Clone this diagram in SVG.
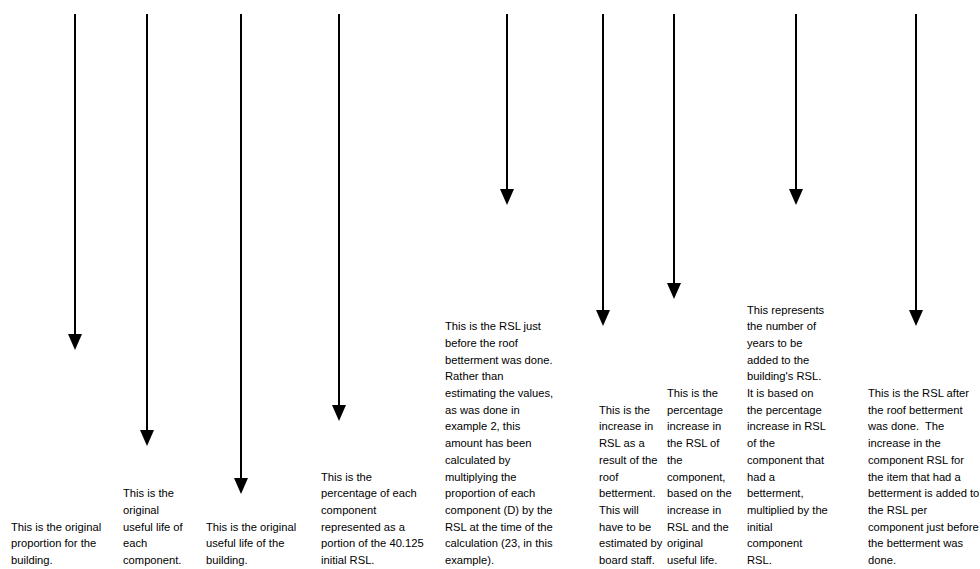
<svg xmlns="http://www.w3.org/2000/svg" width="980" height="569" viewBox="0 0 980 569">
<style>
  .t { font-family: "Liberation Sans", Arial, sans-serif; font-size: 11.2px; fill: #000; }
  .a { stroke: #000; stroke-width: 2; fill: none; marker-end: url(#ah); }
</style>
<defs>
  <marker id="ah" markerUnits="userSpaceOnUse" markerWidth="16" markerHeight="14" refX="0" refY="7" orient="auto" overflow="visible">
    <path d="M0,0 L16,7 L0,14 Z" fill="#000"/>
  </marker>
</defs>
<rect width="980" height="569" fill="#fff"/>
<g id="connectors">
  <line class="a" x1="75" y1="14" x2="75" y2="334"/>
  <line class="a" x1="147" y1="14" x2="147" y2="430"/>
  <line class="a" x1="241" y1="14" x2="241" y2="478"/>
  <line class="a" x1="339" y1="14" x2="339" y2="405"/>
  <line class="a" x1="507" y1="14" x2="507" y2="189"/>
  <line class="a" x1="603" y1="14" x2="603" y2="310"/>
  <line class="a" x1="674" y1="14" x2="674" y2="283"/>
  <line class="a" x1="796" y1="14" x2="796" y2="189"/>
  <line class="a" x1="916" y1="14" x2="916" y2="310"/>
</g>
<g id="n1"><text class="t" y="530.6">
  <tspan x="11">This is the original</tspan>
  <tspan x="11" dy="16.7">proportion for the</tspan>
  <tspan x="11" dy="16.7">building.</tspan>
</text></g>
<g id="n2"><text class="t" y="497.2">
  <tspan x="123">This is the</tspan>
  <tspan x="123" dy="16.7">original</tspan>
  <tspan x="123" dy="16.7">useful life of</tspan>
  <tspan x="123" dy="16.7">each</tspan>
  <tspan x="123" dy="16.7">component.</tspan>
</text></g>
<g id="n3"><text class="t" y="530.6">
  <tspan x="206">This is the original</tspan>
  <tspan x="206" dy="16.7">useful life of the</tspan>
  <tspan x="206" dy="16.7">building.</tspan>
</text></g>
<g id="n4"><text class="t" y="480.5">
  <tspan x="321">This is the</tspan>
  <tspan x="321" dy="16.7">percentage of each</tspan>
  <tspan x="321" dy="16.7">component</tspan>
  <tspan x="321" dy="16.7">represented as a</tspan>
  <tspan x="321" dy="16.7">portion of the 40.125</tspan>
  <tspan x="321" dy="16.7">initial RSL.</tspan>
</text></g>
<g id="n5"><text class="t" y="330.2">
  <tspan x="445">This is the RSL just</tspan>
  <tspan x="445" dy="16.7">before the roof</tspan>
  <tspan x="445" dy="16.7">betterment was done.</tspan>
  <tspan x="445" dy="16.7">Rather than</tspan>
  <tspan x="445" dy="16.7">estimating the values,</tspan>
  <tspan x="445" dy="16.7">as was done in</tspan>
  <tspan x="445" dy="16.7">example 2, this</tspan>
  <tspan x="445" dy="16.7">amount has been</tspan>
  <tspan x="445" dy="16.7">calculated by</tspan>
  <tspan x="445" dy="16.7">multiplying the</tspan>
  <tspan x="445" dy="16.7">proportion of each</tspan>
  <tspan x="445" dy="16.7">component (D) by the</tspan>
  <tspan x="445" dy="16.7">RSL at the time of the</tspan>
  <tspan x="445" dy="16.7">calculation (23, in this</tspan>
  <tspan x="445" dy="16.7">example).</tspan>
</text></g>
<g id="n6"><text class="t" y="413.7">
  <tspan x="599">This is the</tspan>
  <tspan x="599" dy="16.7">increase in</tspan>
  <tspan x="599" dy="16.7">RSL as a</tspan>
  <tspan x="599" dy="16.7">result of the</tspan>
  <tspan x="599" dy="16.7">roof</tspan>
  <tspan x="599" dy="16.7">betterment.</tspan>
  <tspan x="599" dy="16.7">This will</tspan>
  <tspan x="599" dy="16.7">have to be</tspan>
  <tspan x="599" dy="16.7">estimated by</tspan>
  <tspan x="599" dy="16.7">board staff.</tspan>
</text></g>
<g id="n7"><text class="t" y="397">
  <tspan x="667">This is the</tspan>
  <tspan x="667" dy="16.7">percentage</tspan>
  <tspan x="667" dy="16.7">increase in</tspan>
  <tspan x="667" dy="16.7">the RSL of</tspan>
  <tspan x="667" dy="16.7">the</tspan>
  <tspan x="667" dy="16.7">component,</tspan>
  <tspan x="667" dy="16.7">based on the</tspan>
  <tspan x="667" dy="16.7">increase in</tspan>
  <tspan x="667" dy="16.7">RSL and the</tspan>
  <tspan x="667" dy="16.7">original</tspan>
  <tspan x="667" dy="16.7">useful life.</tspan>
</text></g>
<g id="n8"><text class="t" y="313.5">
  <tspan x="747">This represents</tspan>
  <tspan x="747" dy="16.7">the number of</tspan>
  <tspan x="747" dy="16.7">years to be</tspan>
  <tspan x="747" dy="16.7">added to the</tspan>
  <tspan x="747" dy="16.7">building's RSL.</tspan>
  <tspan x="747" dy="16.7">It is based on</tspan>
  <tspan x="747" dy="16.7">the percentage</tspan>
  <tspan x="747" dy="16.7">increase in RSL</tspan>
  <tspan x="747" dy="16.7">of the</tspan>
  <tspan x="747" dy="16.7">component that</tspan>
  <tspan x="747" dy="16.7">had a</tspan>
  <tspan x="747" dy="16.7">betterment,</tspan>
  <tspan x="747" dy="16.7">multiplied by the</tspan>
  <tspan x="747" dy="16.7">initial</tspan>
  <tspan x="747" dy="16.7">component</tspan>
  <tspan x="747" dy="16.7">RSL.</tspan>
</text></g>
<g id="n9"><text class="t" y="397">
  <tspan x="868">This is the RSL after</tspan>
  <tspan x="868" dy="16.7">the roof betterment</tspan>
  <tspan x="868" dy="16.7">was done.&#160; The</tspan>
  <tspan x="868" dy="16.7">increase in the</tspan>
  <tspan x="868" dy="16.7">component RSL for</tspan>
  <tspan x="868" dy="16.7">the item that had a</tspan>
  <tspan x="868" dy="16.7">betterment is added to</tspan>
  <tspan x="868" dy="16.7">the RSL per</tspan>
  <tspan x="868" dy="16.7">component just before</tspan>
  <tspan x="868" dy="16.7">the betterment was</tspan>
  <tspan x="868" dy="16.7">done.</tspan>
</text></g>
</svg>
